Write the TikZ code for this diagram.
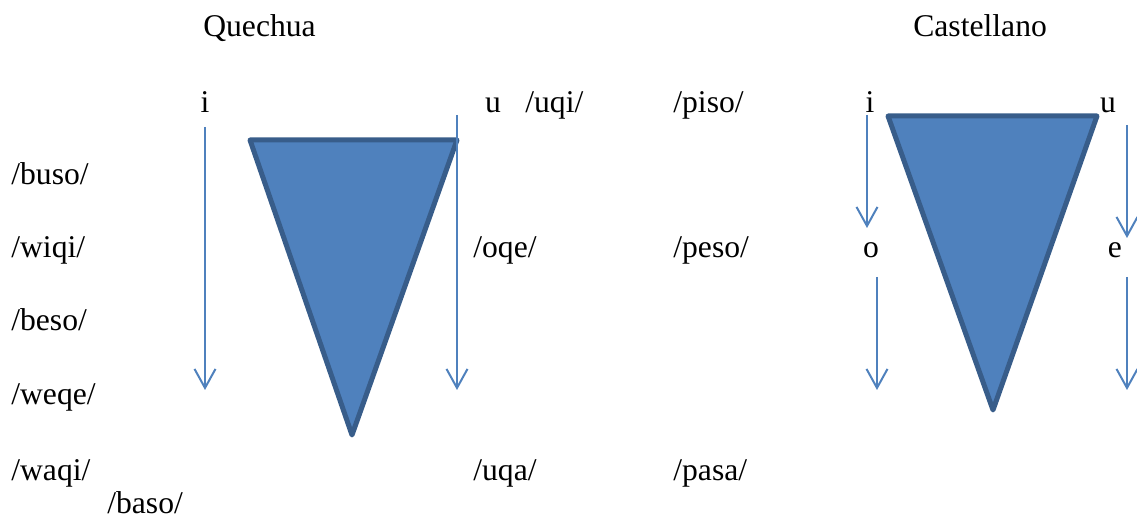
\documentclass[tikz,border=0pt]{standalone}
\usepackage{fontspec}
\setmainfont{Liberation Serif}
\usetikzlibrary{arrows.meta}
\definecolor{vocalfill}{HTML}{4F81BD}
\definecolor{vocalline}{HTML}{385D8A}

\begin{document}
\begin{tikzpicture}[x=0.02cm, y=-0.02cm,
    lbl/.style={inner sep=0pt, anchor=base west, font=\fontsize{18}{21}\selectfont},
    vow/.style={inner sep=0pt, anchor=base, font=\fontsize{18}{21}\selectfont},
    tri/.style={fill=vocalfill, draw=vocalline, line width=0.1cm, line join=round},
    flecha/.style={draw=vocalfill, line width=0.04cm, -{Straight Barb[length=0.38cm, width=0.42cm]}}]
    \useasboundingbox (0,0) rectangle (1137,520);

    % titulos
    \node[lbl] (quechua) at (203,37) {Quechua};
    \node[lbl] (castellano) at (913,37) {Castellano};

    % quechua
    \node[vow] (qi) at (205,113) {i};
    \node[vow] (qu) at (493,113) {u};
    \node[lbl] (uqi) at (525,113) {/uqi/};
    \node[lbl] (buso) at (11,185) {/buso/};
    \node[lbl] (wiqi) at (11,258) {/wiqi/};
    \node[lbl] (oqe) at (473,258) {/oqe/};
    \node[lbl] (beso) at (11,331) {/beso/};
    \node[lbl] (weqe) at (11,405) {/weqe/};
    \node[lbl] (waqi) at (11,480) {/waqi/};
    \node[lbl] (uqa) at (473,480) {/uqa/};
    \node[lbl] (baso) at (107,514) {/baso/};

    \coordinate (qa) at (250,140);
    \coordinate (qb) at (457,140);
    \coordinate (qc) at (352,435);
    \draw[tri] (qa) -- (qb) -- (qc) -- cycle;

    \coordinate (qi1) at (205,127);
    \coordinate (qi2) at (205,390);
    \coordinate (qu1) at (457,115);
    \coordinate (qu2) at (457,390);
    \draw[flecha] (qi1) -- (qi2);
    \draw[flecha] (qu1) -- (qu2);

    % castellano
    \node[lbl] (piso) at (673,113) {/piso/};
    \node[lbl] (peso) at (673,258) {/peso/};
    \node[lbl] (pasa) at (673,480) {/pasa/};
    \node[vow] (ci) at (870,113) {i};
    \node[vow] (cu) at (1108,113) {u};
    \node[vow] (co) at (871,258) {o};
    \node[vow] (ce) at (1115,258) {e};

    \coordinate (ca) at (888,116);
    \coordinate (cb) at (1097,116);
    \coordinate (cc) at (993,410);
    \draw[tri] (ca) -- (cb) -- (cc) -- cycle;

    \coordinate (ci1) at (867,115);
    \coordinate (ci2) at (867,228);
    \coordinate (cu1) at (1127,125);
    \coordinate (cu2) at (1127,238);
    \coordinate (co1) at (877,277);
    \coordinate (co2) at (877,390);
    \coordinate (ce1) at (1127,277);
    \coordinate (ce2) at (1127,390);
    \draw[flecha] (ci1) -- (ci2);
    \draw[flecha] (cu1) -- (cu2);
    \draw[flecha] (co1) -- (co2);
    \draw[flecha] (ce1) -- (ce2);
\end{tikzpicture}
\end{document}
